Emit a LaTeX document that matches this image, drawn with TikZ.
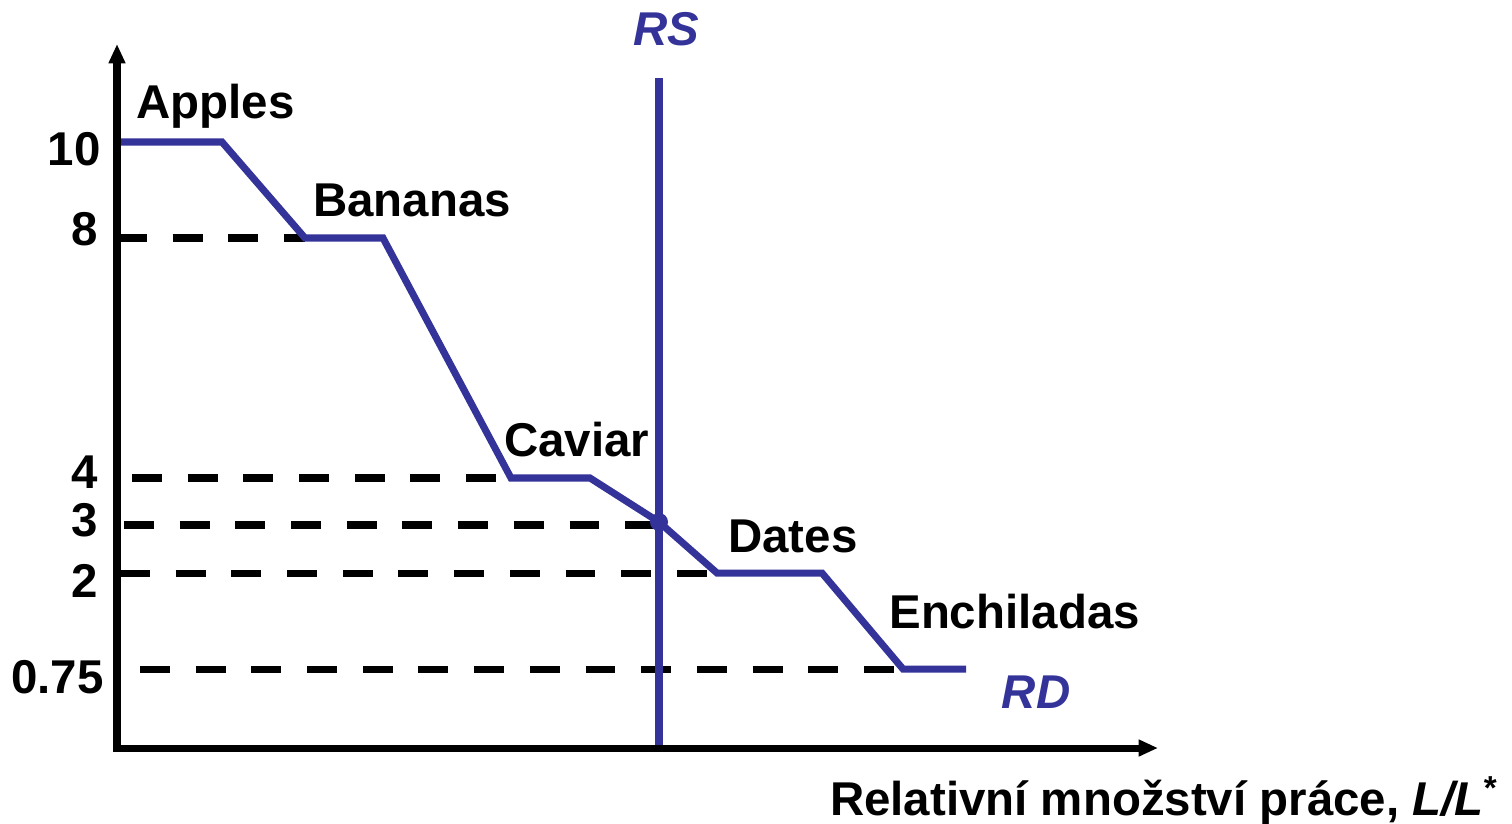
\documentclass[tikz,border=0pt]{standalone}
\usepackage{fontspec}
\setmainfont{Liberation Sans}
\usetikzlibrary{arrows.meta}
\definecolor{curveblue}{HTML}{333399}
\begin{document}
\begin{tikzpicture}[x=0.02cm,y=-0.02cm,
  axis/.style={line width=4pt,-{Triangle[length=11pt,width=9pt]}},
  curve/.style={line width=4pt,curveblue,line join=miter},
  guide/.style={line width=4pt,dash pattern=on 17pt off 14.7pt},
  lbl/.style={font=\fontsize{27}{30}\selectfont\bfseries,inner sep=0pt},
  tick/.style={lbl,anchor=base east},
  good/.style={lbl,anchor=base west},
  blue lbl/.style={lbl,text=curveblue,font=\fontsize{27}{30}\selectfont\bfseries\itshape}]
\useasboundingbox (0,0) rectangle (1512,823);
% curve points
\coordinate (p0) at (117,142);
\coordinate (p1) at (222,142);
\coordinate (p2) at (305,238);
\coordinate (p3) at (383,238);
\coordinate (p4) at (511,478);
\coordinate (p5) at (590,478);
\coordinate (eq) at (659,522);
\coordinate (p6) at (717,573);
\coordinate (p7) at (822,573);
\coordinate (p8) at (903,669);
\coordinate (p9) at (966,669);
% axes
\coordinate (origin) at (117,748);
\coordinate (ytip) at (117,44);
\coordinate (xtip) at (1158,748);
% dashed guides
\coordinate (g8) at (117,238);
\coordinate (g4) at (132,478);
\coordinate (g3) at (124,525);
\coordinate (g2) at (120,573);
\coordinate (g0) at (140,669);
\draw[guide] (g8) -- (p2);
\draw[guide] (g4) -- (p4);
\draw[guide] (g3) -- (eq |- g3);
\draw[guide] (g2) -- (p6);
\draw[guide] (g0) -- (p8);
% RS
\coordinate (rstop) at (659,78);
\coordinate (rsbot) at (659,748);
\draw[curve] (rstop) -- (rsbot);
% RD
\draw[curve] (p0) -- (p1) -- (p2) -- (p3) -- (p4) -- (p5) -- (eq) -- (p6) -- (p7) -- (p8) -- (p9);
\fill[curveblue] (eq) circle (9);
% axes
\draw[axis] (117,752) -- (ytip);
\draw[axis] (113,748) -- (xtip);
% ticks
\node[tick] (t10) at (101,165) {10};
\node[tick] (t8) at (98,245) {8};
\node[tick] (t4) at (98,488) {4};
\node[tick] (t3) at (98,536) {3};
\node[tick] (t2) at (98,597) {2};
\node[tick] (t075) at (104,693) {0.75};
% goods
\node[good] (apples) at (136,118) {Apples};
\node[good] (bananas) at (313,216) {Bananas};
\node[good] (caviar) at (504,456) {Caviar};
\node[good] (dates) at (728,552) {Dates};
\node[good] (ench) at (889,628) {Enchiladas};
% curve labels
\node[blue lbl,anchor=base] (rs) at (666,45) {RS};
\node[blue lbl,anchor=base] (rd) at (1036,708) {RD};
% axis title
\node[lbl,anchor=base east] (xt) at (1498,815) {Relativní množství práce, \textit{L/L}\textsuperscript{*}};
\end{tikzpicture}
\end{document}
